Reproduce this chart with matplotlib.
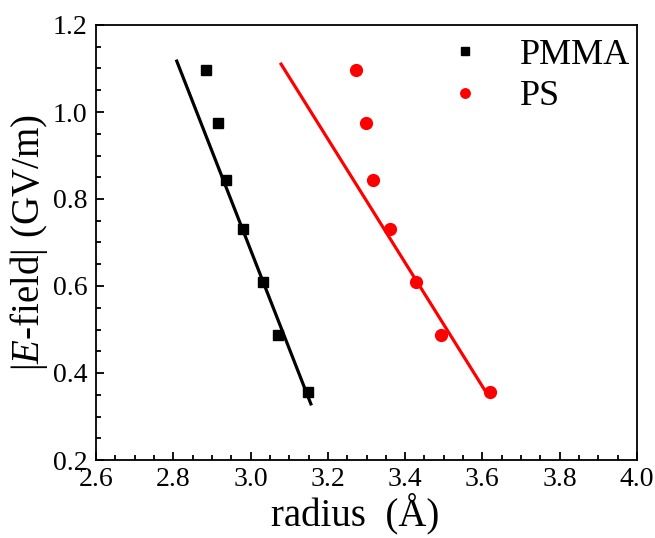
import matplotlib
matplotlib.use("Agg")
import matplotlib.pyplot as plt
from matplotlib.ticker import MultipleLocator

plt.rcParams['font.family'] = ['Liberation Serif', 'DejaVu Serif']
plt.rcParams['mathtext.fontset'] = 'custom'
plt.rcParams['mathtext.rm'] = 'Liberation Serif'
plt.rcParams['mathtext.it'] = 'Liberation Serif:italic'

# data
pmma_r = [2.885, 2.916, 2.936, 2.980, 3.033, 3.072, 3.148]
pmma_e = [1.097, 0.975, 0.844, 0.731, 0.609, 0.487, 0.357]
ps_r = [3.273, 3.298, 3.317, 3.361, 3.427, 3.493, 3.620]
ps_e = [1.097, 0.975, 0.844, 0.731, 0.609, 0.487, 0.356]

# fitted lines (end points)
pmma_fit_r = [2.809, 3.156]
pmma_fit_e = [1.117, 0.329]
ps_fit_r = [3.079, 3.612]
ps_fit_e = [1.110, 0.352]

fig = plt.figure(figsize=(6.55, 5.38), dpi=100)
ax = fig.add_axes([96 / 655, 78 / 538, 541 / 655, 435 / 538])

ax.plot(pmma_fit_r, pmma_fit_e, color='black', lw=2.3)
ax.plot(ps_fit_r, ps_fit_e, color='red', lw=2.3)
ax.plot(pmma_r, pmma_e, 's', color='black', ms=7.5, label='PMMA')
ax.plot(ps_r, ps_e, 'o', color='red', ms=8.5, label='PS')

ax.set_xlim(2.6, 4.0)
ax.set_ylim(0.2, 1.2)
ax.xaxis.set_major_locator(MultipleLocator(0.2))
ax.xaxis.set_minor_locator(MultipleLocator(0.05))
ax.yaxis.set_major_locator(MultipleLocator(0.2))
ax.yaxis.set_minor_locator(MultipleLocator(0.05))
ax.tick_params(which='both', direction='in', labelsize=20, width=1.3)
ax.tick_params(which='major', length=6)
ax.tick_params(which='minor', length=3.5)
ax.tick_params(axis='x', which='major', pad=5)
ax.tick_params(axis='y', which='major', pad=6)
for s in ax.spines.values():
    s.set_linewidth(1.3)

ax.set_xlabel('radius  (Å)', fontsize=28)
ax.xaxis.set_label_coords(0.479, -0.076, transform=ax.transAxes)
ax.xaxis.label.set_va('top')
ax.set_ylabel(r'|$E$-field| (GV/m)', fontsize=28, labelpad=2)

ax.legend(loc='upper right', bbox_to_anchor=(1.0, 0.985), frameon=False,
          fontsize=26, handletextpad=0.9, borderaxespad=0.0,
          labelspacing=0.22, markerscale=0.8, borderpad=0.2,
          handlelength=1.2)

fig.savefig('out.png', dpi=100)
